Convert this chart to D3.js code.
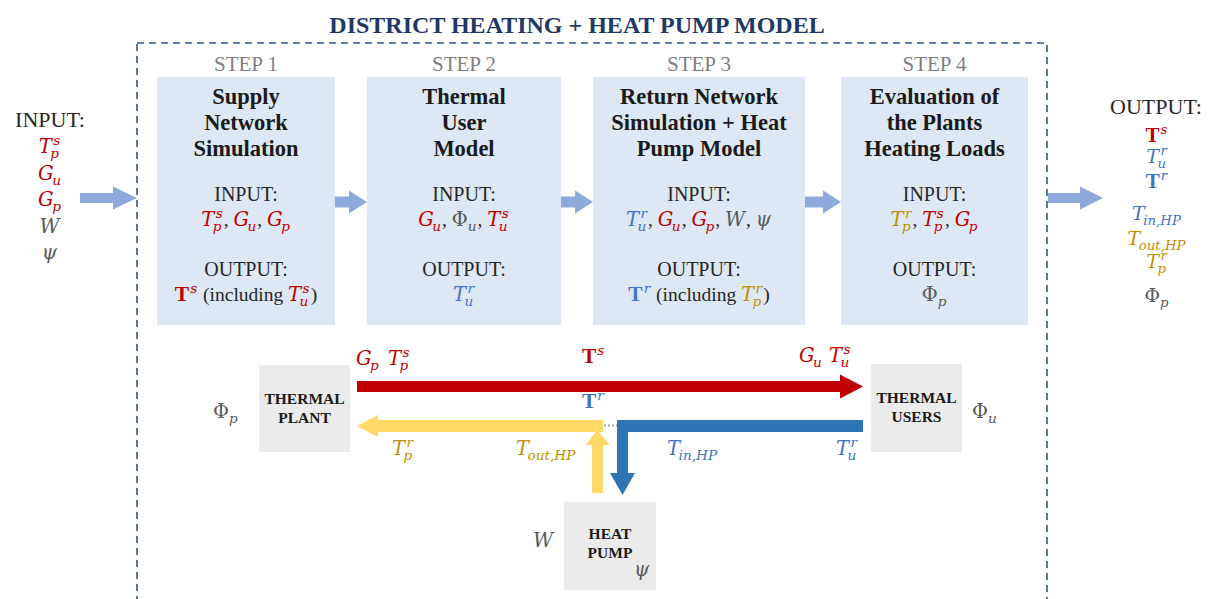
<!DOCTYPE html>
<html>
<head>
<meta charset="utf-8">
<script src="https://cdn.jsdelivr.net/npm/d3@7"></script>
<style>
  body { margin: 0; background: #fff; }
  svg { display: block; }
  text { font-family: "Liberation Serif", "Times New Roman", serif; }
  tspan.math { font-family: "DejaVu Serif", serif; }
</style>
</head>
<body>
<svg id="fig" width="1211" height="599"></svg>
<script>
// ---- content ----
// math tokens are "color|term" (term: base_sub^sup, leading * = bold), plain text is "~text"
const title = "DISTRICT HEATING + HEAT PUMP MODEL";
const stepLabels = ["STEP 1", "STEP 2", "STEP 3", "STEP 4"];
const stepTitles = [
  ["Supply", "Network", "Simulation"],
  ["Thermal", "User", "Model"],
  ["Return Network", "Simulation + Heat", "Pump Model"],
  ["Evaluation of", "the Plants", "Heating Loads"]
];
const stepInputs = [
  ["r|T_p^s", "~, ", "r|G_u", "~, ", "r|G_p"],
  ["r|G_u", "~, ", "g|Φ_u", "~, ", "r|T_u^s"],
  ["b|T_u^r", "~, ", "r|G_u", "~, ", "r|G_p", "~, ", "g|W", "~, ", "g|ψ"],
  ["y|T_p^r", "~, ", "r|T_p^s", "~, ", "r|G_p"]
];
const stepOutputs = [
  ["r|*T^s", "~ (including ", "r|T_u^s", "~)"],
  ["b|T_u^r"],
  ["b|*T^r", "~ (including ", "y|T_p^r", "~)"],
  ["g|Φ_p"]
];
const modelInputs = ["r|T_p^s", "r|G_u", "r|G_p", "g|W", "g|ψ"];
const modelOutputs = ["r|*T^s", "b|T_u^r", "b|*T^r", "b|T_in,HP", "y|T_out,HP", "y|T_p^r", "g|Φ_p"];
const nodes = [["THERMAL", "PLANT"], ["THERMAL", "USERS"], ["HEAT", "PUMP"]];
const flowLabels = ["r|G_p", "r|T_p^s", "r|*T^s", "r|G_u", "r|T_u^s", "b|*T^r",
  "y|T_p^r", "y|T_out,HP", "b|T_in,HP", "b|T_u^r", "g|Φ_p", "g|Φ_u", "g|W", "g|ψ"];

// ---- layout & style ----
const colors = { r: "#c00000", b: "#4472c4", y: "#bf9000", g: "#595959", k: "#262626" };
const boxes = [{ x: 157, w: 178 }, { x: 367, w: 194 }, { x: 593, w: 212 }, { x: 841, w: 187 }];
const nodeBoxes = [{ x: 259, y: 365, w: 91, h: 87 }, { x: 871, y: 364, w: 91, h: 88 }, { x: 564, y: 502, w: 92, h: 88 }];
const flowPos = [[356, 365], [388, 365], [582, 363], [799, 362], [829, 362], [582, 408],
  [392, 455], [516, 455], [667, 455], [836, 455], [213, 418], [972, 418], [533, 547], [634, 576]];

const svg = d3.select("#fig");

// one <text> per math term: base, then superscript and subscript stacked
function term(g, x, y, tok, size) {
  const [c, raw] = tok.split("|");
  const bold = raw[0] === "*";
  const spec = bold ? raw.slice(1) : raw;
  const m = spec.match(/^([^_^]+)(?:_([^^]+))?(?:\^(.+))?$/);
  const base = m[1], sub = m[2], sup = m[3];
  const upright = bold || base === "Φ";
  const s2 = size * 0.7;
  const t = g.append("text").attr("x", x).attr("y", y).attr("fill", colors[c]);
  const bt = t.append("tspan").attr("class", bold ? null : "math")
    .attr("font-size", bold ? size * 1.1 : size).attr("font-weight", bold ? "bold" : "normal")
    .attr("font-style", upright ? "normal" : "italic").text(base);
  const w = bt.node().getComputedTextLength();
  const supOff = upright ? 1 : 1.5, subOff = upright ? 0 : -1.5;
  let extra = 0, supW = 0;
  if (sup) {
    const st = t.append("tspan").attr("class", "math").attr("dx", supOff).attr("dy", -size * 0.4)
      .attr("font-size", s2).attr("font-style", "italic").text(sup);
    supW = st.node().getComputedTextLength();
    extra = supW + supOff;
  }
  if (sub) {
    const st = t.append("tspan").attr("class", "math")
      .attr("dx", sup ? -(supW + supOff) + subOff : subOff)
      .attr("dy", sup ? size * 0.66 : size * 0.26)
      .attr("font-size", s2).attr("font-style", "italic").text(sub);
    extra = Math.max(extra, st.node().getComputedTextLength() + subOff);
  }
  return w + extra + 1;
}

function row(tokens, x, y, size, anchor) {
  const g = svg.append("g");
  let cx = 0;
  tokens.forEach(tok => {
    if (tok[0] === "~") {
      const t = g.append("text").attr("x", cx).attr("y", y).attr("fill", colors.k)
        .attr("font-size", size).style("white-space", "pre").text(tok.slice(1));
      cx += t.node().getComputedTextLength();
    } else {
      cx += term(g, cx, y, tok, size);
    }
  });
  g.attr("transform", `translate(${anchor === "start" ? x : x - cx / 2},0)`);
  return g;
}

// arrow polygon along a straight segment
function arrowPts(x0, y0, x1, y1, shaft, head, headLen) {
  const L = Math.hypot(x1 - x0, y1 - y0), ux = (x1 - x0) / L, uy = (y1 - y0) / L;
  const px = -uy, py = ux;
  const bx = x1 - ux * headLen, by = y1 - uy * headLen;
  return [
    [x0 + px * shaft / 2, y0 + py * shaft / 2], [bx + px * shaft / 2, by + py * shaft / 2],
    [bx + px * head / 2, by + py * head / 2], [x1, y1],
    [bx - px * head / 2, by - py * head / 2], [bx - px * shaft / 2, by - py * shaft / 2],
    [x0 - px * shaft / 2, y0 - py * shaft / 2]
  ];
}
const poly = d3.line().curve(d3.curveLinearClosed);
function arrow(pts, fill) { svg.append("path").attr("d", poly(pts)).attr("fill", fill); }

// title + dashed frame
svg.append("text").attr("x", 577).attr("y", 33).attr("text-anchor", "middle")
  .attr("font-size", 24).attr("font-weight", "bold").attr("fill", "#1f3864").text(title);
svg.append("rect").attr("x", 137).attr("y", 43).attr("width", 910).attr("height", 600)
  .attr("fill", "none").attr("stroke", "#2f5597").attr("stroke-width", 1.6).attr("stroke-dasharray", "7,5");

// step boxes
const titleY = d3.scalePoint().domain([0, 1, 2]).range([104, 156]);
boxes.forEach((b, i) => {
  const cx = b.x + b.w / 2;
  svg.append("rect").attr("x", b.x).attr("y", 77).attr("width", b.w).attr("height", 248).attr("fill", "#dde8f4");
  svg.append("text").attr("x", cx).attr("y", 71).attr("text-anchor", "middle").attr("font-size", 21)
    .attr("fill", "#7f7f7f").text(stepLabels[i]);
  stepTitles[i].forEach((line, j) => {
    svg.append("text").attr("x", cx).attr("y", titleY(j)).attr("text-anchor", "middle")
      .attr("font-size", 22.5).attr("font-weight", "bold").attr("fill", "#1a1a1a").text(line);
  });
  svg.append("text").attr("x", cx).attr("y", 201).attr("text-anchor", "middle").attr("font-size", 20)
    .attr("fill", colors.k).text("INPUT:");
  row(stepInputs[i], cx, 226, 19.5);
  svg.append("text").attr("x", cx).attr("y", 276).attr("text-anchor", "middle").attr("font-size", 20)
    .attr("fill", colors.k).text("OUTPUT:");
  row(stepOutputs[i], cx, 301, 19.5);
  if (i < boxes.length - 1) {
    arrow(arrowPts(b.x + b.w, 202, boxes[i + 1].x, 202, 11, 23, 18), "#8eaadb");
  }
});

// model inputs / outputs
svg.append("text").attr("x", 50).attr("y", 127).attr("text-anchor", "middle").attr("font-size", 22)
  .attr("fill", colors.k).text("INPUT:");
const inY = d3.scalePoint().domain(d3.range(modelInputs.length)).range([153, 259]);
modelInputs.forEach((t, i) => row([t], 50, inY(i), 19.5));
arrow(arrowPts(80, 198, 137, 198, 10, 23, 24), "#8eaadb");

svg.append("text").attr("x", 1156).attr("y", 114).attr("text-anchor", "middle").attr("font-size", 22)
  .attr("fill", colors.k).text("OUTPUT:");
const outY = [142, 163, 188, 220, 245, 268, 302];
modelOutputs.forEach((t, i) => row([t], 1157, outY[i], 19));
arrow(arrowPts(1048, 198, 1103, 198, 10, 23, 23), "#8eaadb");

// flow diagram
nodeBoxes.forEach((b, i) => {
  svg.append("rect").attr("x", b.x).attr("y", b.y).attr("width", b.w).attr("height", b.h).attr("fill", "#ebebeb");
  nodes[i].forEach((line, j) => {
    svg.append("text").attr("x", b.x + b.w / 2).attr("y", b.y + b.h / 2 - 5 + j * 19 - (i === 2 ? 2 : 0))
      .attr("text-anchor", "middle").attr("font-size", 15.5).attr("font-weight", "bold").attr("fill", "#1a1a1a").text(line);
  });
});

// supply (red)
arrow(arrowPts(357, 386.5, 863, 386.5, 11, 24, 23), "#c00000");
// return to plant (yellow)
arrow(arrowPts(603, 426, 357, 426, 12, 22, 21), "#ffd966");
arrow(arrowPts(597.5, 493, 597.5, 430, 11, 24, 15), "#ffd966");
// return from users (blue, L-shaped)
svg.append("path").attr("fill", "#2e75b6").attr("d", poly([
  [863, 420], [617, 420], [617, 473], [610, 473], [622.5, 495], [635, 473], [628, 473], [628, 432], [863, 432]
]));
svg.append("line").attr("x1", 604).attr("x2", 617).attr("y1", 425.5).attr("y2", 425.5)
  .attr("stroke", "#a6a6a6").attr("stroke-width", 2).attr("stroke-dasharray", "2,2");

flowLabels.forEach((t, i) => row([t], flowPos[i][0], flowPos[i][1], 19.5, "start"));
</script>
</body>
</html>
